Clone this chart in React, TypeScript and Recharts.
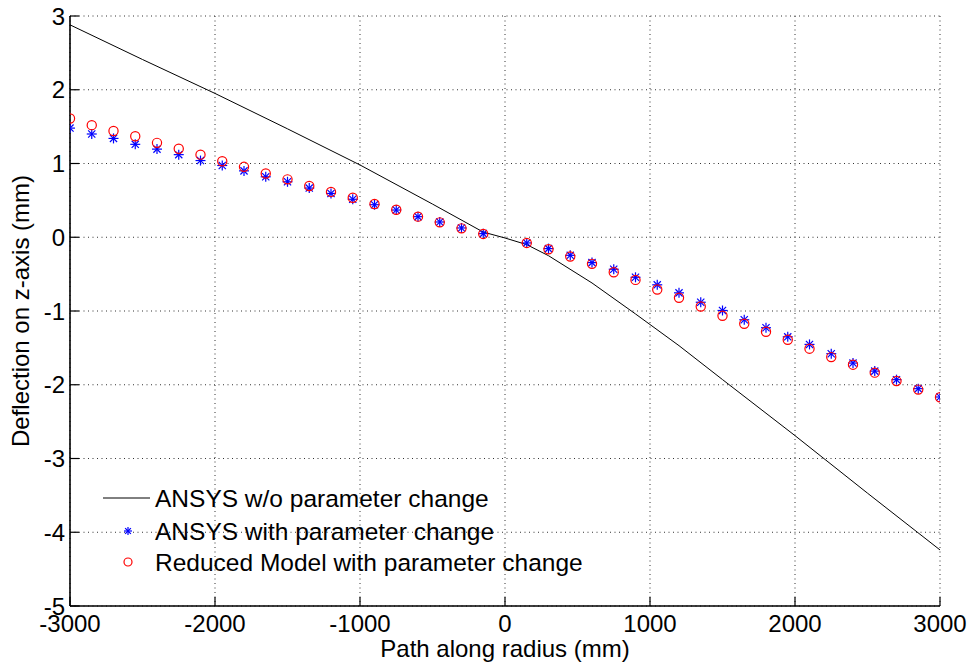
import {
  CartesianGrid,
  ComposedChart,
  Label,
  Line,
  Scatter,
  XAxis,
  YAxis,
} from "recharts";

const markerX = [
  -3000, -2850, -2700, -2550, -2400, -2250, -2100, -1950, -1800, -1650, -1500,
  -1350, -1200, -1050, -900, -750, -600, -450, -300, -150, 150, 300, 450, 600,
  750, 900, 1050, 1200, 1350, 1500, 1650, 1800, 1950, 2100, 2250, 2400, 2550,
  2700, 2850, 3000,
];

// ANSYS with parameter change (blue stars)
const ansysWith = [
  1.48, 1.4, 1.34, 1.26, 1.195, 1.12, 1.04, 0.973, 0.9, 0.82, 0.752, 0.667,
  0.594, 0.515, 0.441, 0.369, 0.279, 0.207, 0.126, 0.049, -0.077, -0.154,
  -0.245, -0.344, -0.434, -0.543, -0.645, -0.754, -0.881, -0.993, -1.119,
  -1.227, -1.35, -1.453, -1.579, -1.706, -1.815, -1.931, -2.053, -2.166,
];

// Reduced model with parameter change (red circles)
const reducedWith = [
  1.61, 1.52, 1.44, 1.37, 1.28, 1.2, 1.12, 1.03, 0.955, 0.865, 0.785, 0.695,
  0.615, 0.535, 0.451, 0.373, 0.279, 0.202, 0.121, 0.045, -0.077, -0.163,
  -0.262, -0.361, -0.475, -0.578, -0.709, -0.821, -0.939, -1.065, -1.173,
  -1.281, -1.39, -1.511, -1.625, -1.728, -1.836, -1.95, -2.066, -2.17,
];

// ANSYS w/o parameter change (black line)
const lineX = [
  -3000, -2500, -2000, -1500, -1000, -500, -150, 0, 150, 300, 600, 900, 1200,
  1500, 2000, 2500, 3000,
];
const lineY = [
  2.88, 2.41, 1.95, 1.47, 0.98, 0.45, 0.07, -0.01, -0.1, -0.25, -0.62, -1.04,
  -1.47, -1.93, -2.69, -3.47, -4.24,
];

const xTicks = [-3000, -2000, -1000, 0, 1000, 2000, 3000];
const yTicks = [-5, -4, -3, -2, -1, 0, 1, 2, 3];

const legendLabels = [
  "ANSYS w/o parameter change",
  "ANSYS with parameter change",
  "Reduced Model with parameter change",
];

const FONT = '"Liberation Sans", Arial, Helvetica, sans-serif';
const TICK_LEN = 9;

const lineData = lineX.map((x, i) => ({ x, y: lineY[i] }));
const starData = markerX.map((x, i) => ({ x, y: ansysWith[i] }));
const circleData = markerX.map((x, i) => ({ x, y: reducedWith[i] }));

function BottomTick(props: any) {
  const { x, y, payload } = props;
  return (
    <g>
      <line x1={x} y1={y} x2={x} y2={y - TICK_LEN} stroke="#000" strokeWidth={1.2} />
      <text
        x={x}
        y={y + 9}
        dy="0.71em"
        textAnchor="middle"
        fontFamily={FONT}
        fontSize={24}
        fill="#000"
      >
        {payload.value}
      </text>
    </g>
  );
}

function TopTick(props: any) {
  const { x, y } = props;
  return <line x1={x} y1={y} x2={x} y2={y + TICK_LEN} stroke="#000" strokeWidth={1.2} />;
}

function LeftTick(props: any) {
  const { x, y, payload } = props;
  return (
    <g>
      <line x1={x} y1={y} x2={x + TICK_LEN} y2={y} stroke="#000" strokeWidth={1.2} />
      <text
        x={x - 5}
        y={y}
        dy="0.36em"
        textAnchor="end"
        fontFamily={FONT}
        fontSize={24}
        fill="#000"
      >
        {payload.value}
      </text>
    </g>
  );
}

function RightTick(props: any) {
  const { x, y } = props;
  return <line x1={x} y1={y} x2={x - TICK_LEN} y2={y} stroke="#000" strokeWidth={1.2} />;
}

function Star(props: any) {
  const { cx, cy, arm = 5 } = props;
  const d = arm * 0.72;
  return (
    <g stroke="#0000ff" strokeWidth={1.2}>
      <line x1={cx - arm} y1={cy} x2={cx + arm} y2={cy} />
      <line x1={cx} y1={cy - arm} x2={cx} y2={cy + arm} />
      <line x1={cx - d} y1={cy - d} x2={cx + d} y2={cy + d} />
      <line x1={cx - d} y1={cy + d} x2={cx + d} y2={cy - d} />
    </g>
  );
}

function Ring(props: any) {
  const { cx, cy, radius = 4.6 } = props;
  return <circle cx={cx} cy={cy} r={radius} fill="none" stroke="#ff0000" strokeWidth={1.2} />;
}

function XLabel(props: any) {
  const { viewBox } = props;
  return (
    <text
      x={viewBox.x + viewBox.width / 2}
      y={viewBox.y + 51}
      textAnchor="middle"
      fontFamily={FONT}
      fontSize={24}
      fill="#000"
    >
      Path along radius (mm)
    </text>
  );
}

function YLabel(props: any) {
  const { viewBox } = props;
  const cx = 29;
  const cy = viewBox.y + viewBox.height / 2;
  return (
    <text
      x={cx}
      y={cy}
      transform={`rotate(-90 ${cx} ${cy})`}
      textAnchor="middle"
      fontFamily={FONT}
      fontSize={24}
      fill="#000"
    >
      Deflection on z-axis (mm)
    </text>
  );
}

function ChartLegend() {
  const rows = [28, 61, 92];
  return (
    <svg
      width={600}
      height={120}
      style={{ position: "absolute", left: 90, top: 470, overflow: "visible" }}
    >
      <line x1={13} y1={rows[0]} x2={60} y2={rows[0]} stroke="#000" strokeWidth={1} />
      <Star cx={38} cy={rows[1]} arm={4} />
      <Ring cx={38} cy={rows[2]} radius={4} />
      {legendLabels.map((label, i) => (
        <text
          key={label}
          x={65}
          y={rows[i]}
          dy="0.36em"
          fontFamily={FONT}
          fontSize={24.5}
          fill="#000"
        >
          {label}
        </text>
      ))}
    </svg>
  );
}

export default function App() {
  return (
    <div
      style={{
        position: "absolute",
        left: 0,
        top: 0,
        width: 973,
        height: 670,
        background: "#fff",
      }}
    >
      <ComposedChart
        width={973}
        height={670}
        margin={{ top: 16, right: 33, bottom: 4, left: 10 }}
      >
        <CartesianGrid
          stroke="#333"
          strokeDasharray="1 3.5"
          horizontalValues={yTicks}
          verticalValues={xTicks}
        />
        <XAxis
          type="number"
          dataKey="x"
          domain={[-3000, 3000]}
          ticks={xTicks}
          allowDataOverflow
          height={60}
          tickSize={0}
          tickMargin={0}
          tick={<BottomTick />}
          axisLine={{ stroke: "#000", strokeWidth: 1.6 }}
          interval={0}
        >
          <Label content={<XLabel />} />
        </XAxis>
        <XAxis
          xAxisId="top"
          orientation="top"
          type="number"
          dataKey="x"
          domain={[-3000, 3000]}
          ticks={xTicks}
          allowDataOverflow
          height={0}
          tickSize={0}
          tickMargin={0}
          tick={<TopTick />}
          axisLine={{ stroke: "#000", strokeWidth: 1.6 }}
          interval={0}
        />
        <YAxis
          type="number"
          domain={[-5, 3]}
          ticks={yTicks}
          allowDataOverflow
          width={60}
          tickSize={0}
          tickMargin={0}
          tick={<LeftTick />}
          axisLine={{ stroke: "#000", strokeWidth: 1.6 }}
          interval={0}
        >
          <Label content={<YLabel />} />
        </YAxis>
        <YAxis
          yAxisId="right"
          orientation="right"
          type="number"
          domain={[-5, 3]}
          ticks={yTicks}
          allowDataOverflow
          width={0}
          tickSize={0}
          tickMargin={0}
          tick={<RightTick />}
          axisLine={{ stroke: "#000", strokeWidth: 1.6 }}
          interval={0}
        />
        <Line
          data={lineData}
          dataKey="y"
          type="linear"
          stroke="#000"
          strokeWidth={1}
          dot={false}
          activeDot={false}
          isAnimationActive={false}
        />
        <Scatter
          data={starData}
          dataKey="y"
          shape={<Star />}
          isAnimationActive={false}
        />
        <Scatter
          data={circleData}
          dataKey="y"
          shape={<Ring />}
          isAnimationActive={false}
        />
      </ComposedChart>
      <ChartLegend />
    </div>
  );
}
